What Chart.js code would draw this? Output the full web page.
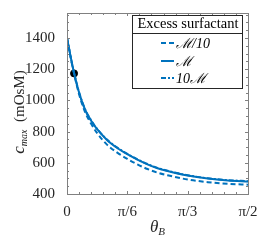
<!DOCTYPE html>
<html>
<head>
<meta charset="utf-8">
<script src="https://cdn.jsdelivr.net/npm/chart.js@4"></script>
<style>
  html, body { margin: 0; padding: 0; background: #fff; }
  #wrap { width: 266px; height: 242px; position: relative; }
</style>
</head>
<body>
<div id="wrap"><canvas id="chart" width="266" height="242"></canvas></div>
<script>
// theta_B in degrees (0..90 = 0..pi/2)
const thetaDeg = [0, 3, 6, 9, 12, 15, 20, 25, 30, 35, 40, 45, 50, 60, 70, 80, 90];
const cMaxTenth = [1400, 1200, 1040, 925, 850, 790, 715, 665, 625, 590, 560, 537, 520, 493, 476, 465, 460];
const cMaxM     = [1400, 1205, 1050, 940, 870, 815, 745, 695, 655, 620, 590, 565, 547, 518, 499, 487, 480];
const cMaxTen   = [1400, 1206, 1052, 942, 872, 817, 747, 697, 657, 622, 592, 567, 549, 520, 501, 489, 482];
const markerPoint = [{ x: 3.5, y: 1173 }];

const seriesLabels = ['\u2133/10', '\u2133', '10\u2133'];
const xTicks = [0, 30, 60, 90];
const xTickLabels = ['0', '\u03c0/6', '\u03c0/3', '\u03c0/2'];
const yTicks = [400, 600, 800, 1000, 1200, 1400];

const blue = '#0072BD';
const axisColor = '#262626';
const serif = 'Liberation Serif';

Chart.defaults.font.family = serif;
Chart.defaults.font.size = 15;
Chart.defaults.color = axisColor;

const toXY = arr => thetaDeg.map((t, i) => ({ x: t, y: arr[i] }));

// box, inward ticks, axis titles and legend drawn on top
const decorations = {
    id: 'decorations',
    afterDraw(chart) {
        const ctx = chart.ctx;
        const a = chart.chartArea;
        const xs = chart.scales.x, ys = chart.scales.y;
        ctx.save();
        ctx.strokeStyle = '#808080';
        ctx.lineWidth = 1;
        ctx.strokeRect(a.left + 0.5, a.top + 0.5, a.right - a.left, a.bottom - a.top);

        ctx.beginPath();
        for (let v = 0; v <= 90; v += 6) {
            const px = Math.round(xs.getPixelForValue(v)) + 0.5;
            const len = xTicks.includes(v) ? 3 : 2;
            ctx.moveTo(px, a.bottom); ctx.lineTo(px, a.bottom - len);
            ctx.moveTo(px, a.top); ctx.lineTo(px, a.top + len);
        }
        for (let v = 400; v <= 1550; v += 50) {
            const py = Math.round(ys.getPixelForValue(v)) + 0.5;
            const len = yTicks.includes(v) ? 3 : 2;
            ctx.moveTo(a.left, py); ctx.lineTo(a.left + len, py);
            ctx.moveTo(a.right, py); ctx.lineTo(a.right - len, py);
        }
        ctx.stroke();

        // x title: theta_B
        ctx.fillStyle = axisColor;
        ctx.textBaseline = 'alphabetic';
        ctx.font = 'italic 17px ' + serif;
        const thW = ctx.measureText('\u03b8').width;
        ctx.font = 'italic 11px ' + serif;
        const bW = ctx.measureText('B').width;
        let x0 = (a.left + a.right) / 2 - (thW + bW) / 2;
        ctx.font = 'italic 17px ' + serif;
        ctx.textAlign = 'left';
        ctx.fillText('\u03b8', x0, 232);
        ctx.font = 'italic 11px ' + serif;
        ctx.fillText('B', x0 + thW, 235);

        // y title: c_max (mOsM)
        ctx.save();
        ctx.translate(24, 112);
        ctx.rotate(-Math.PI / 2);
        ctx.font = 'italic 17px ' + serif;
        const cW = ctx.measureText('c').width;
        ctx.font = 'italic 10px ' + serif;
        const mW = ctx.measureText('max').width;
        ctx.font = '15px ' + serif;
        const uW = ctx.measureText('  (mOsM)').width;
        let s = -(cW + mW + uW) / 2;
        ctx.font = 'italic 17px ' + serif;
        ctx.fillText('c', s, 0);
        ctx.font = 'italic 10px ' + serif;
        ctx.fillText('max', s + cW, 3);
        ctx.font = '15px ' + serif;
        ctx.fillText('  (mOsM)', s + cW + mW, 0);
        ctx.restore();

        // legend
        const L = 132, T = 15, R = 242, B = 88, sep = 33;
        ctx.fillStyle = '#fff';
        ctx.fillRect(L, T, R - L, B - T);
        ctx.strokeStyle = '#262626';
        ctx.lineWidth = 1;
        ctx.strokeRect(L + 0.5, T + 0.5, R - L, B - T);
        ctx.beginPath();
        ctx.moveTo(L, sep + 0.5); ctx.lineTo(R, sep + 0.5);
        ctx.stroke();
        ctx.fillStyle = '#000';
        ctx.font = '14.5px ' + serif;
        ctx.textAlign = 'center';
        ctx.textBaseline = 'middle';
        ctx.fillText('Excess surfactant', (L + R) / 2 + 1, 24);
        const rows = [43, 61, 78];
        ctx.textAlign = 'left';
        [0, 1, 2].forEach(i => {
            const ds = chart.data.datasets[i];
            ctx.save();
            ctx.strokeStyle = ds.borderColor;
            ctx.lineWidth = ds.borderWidth;
            ctx.setLineDash(ds.borderDash || []);
            ctx.beginPath();
            ctx.moveTo(161, rows[i]); ctx.lineTo(174, rows[i]);
            ctx.stroke();
            ctx.restore();
            ctx.fillStyle = '#000';
            ctx.font = 'italic 14px ' + serif;
            ctx.fillText(ds.label, 176, rows[i] + 1);
        });
        ctx.restore();
    }
};

new Chart(document.getElementById('chart'), {
    type: 'line',
    data: {
        datasets: [
            { label: seriesLabels[0], data: toXY(cMaxTenth), borderColor: blue, borderWidth: 2, borderDash: [5, 3], pointRadius: 0, cubicInterpolationMode: 'monotone' },
            { label: seriesLabels[1], data: toXY(cMaxM), borderColor: blue, borderWidth: 2, pointRadius: 0, cubicInterpolationMode: 'monotone' },
            { label: seriesLabels[2], data: toXY(cMaxTen), borderColor: blue, borderWidth: 2, borderDash: [5, 2, 2, 2], pointRadius: 0, cubicInterpolationMode: 'monotone' },
            { type: 'scatter', label: 'marker', data: markerPoint, backgroundColor: '#000', borderColor: '#000', pointRadius: 3.5 }
        ]
    },
    options: {
        responsive: false,
        animation: false,
        layout: { padding: { top: 12, right: 18, left: 0, bottom: 0 } },
        plugins: { legend: { display: false }, tooltip: { enabled: false } },
        scales: {
            x: {
                type: 'linear', min: 0, max: 90,
                grid: { display: false }, border: { display: false },
                afterFit: s => { s.height = 48; },
                afterBuildTicks: s => { s.ticks = xTicks.map(v => ({ value: v })); },
                ticks: {
                    color: axisColor, padding: 1, maxRotation: 0,
                    font: { family: serif, size: 15 },
                    callback: (v) => xTickLabels[xTicks.indexOf(v)]
                }
            },
            y: {
                type: 'linear', min: 400, max: 1560,
                grid: { display: false }, border: { display: false },
                afterFit: s => { s.width = 67; },
                afterBuildTicks: s => { s.ticks = yTicks.map(v => ({ value: v })); },
                ticks: {
                    color: axisColor, padding: 4,
                    font: { family: serif, size: 15 },
                    callback: (v) => String(v)
                }
            }
        }
    },
    plugins: [decorations]
});
</script>
</body>
</html>
